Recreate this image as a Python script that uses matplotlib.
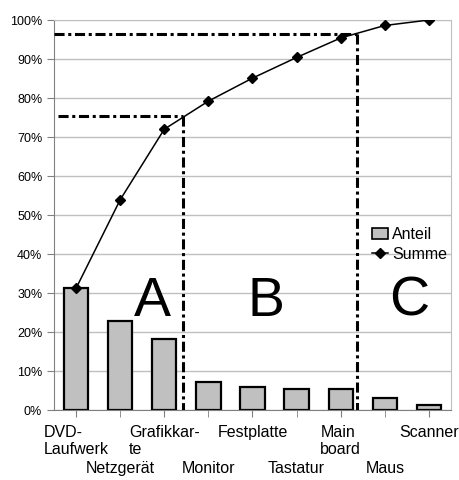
# ABC analysis: Pareto chart of component shares (Anteil) and running total (Summe)
import matplotlib
matplotlib.use("Agg")
import matplotlib.pyplot as plt
from matplotlib.patches import Patch
from matplotlib.lines import Line2D
import numpy as np

plt.rcParams['font.family'] = ['Liberation Sans', 'DejaVu Sans']

kategorien = ['DVD-\nLaufwerk', 'Netzgerät', 'Grafikkar-\nte', 'Monitor',
              'Festplatte', 'Tastatur', 'Main\nboard', 'Maus', 'Scanner']
anteil = [31.2, 22.7, 18.1, 7.2, 5.9, 5.3, 5.3, 3.0, 1.3]      # %
summe = [31.2, 53.9, 72.0, 79.2, 85.1, 90.4, 95.4, 98.6, 100.0]  # %

# boundaries of the A/B/C classes (x in bar units, y in %)
grenze_x = [2.43, 6.36]
grenze_y = [75.4, 96.4]
klassen = ['A', 'B', 'C']
klassen_x = [1.73, 4.3, 7.55]
klassen_y = 27.7

x = np.arange(len(kategorien))

fig = plt.figure(figsize=(4.6, 4.8), dpi=100)
ax = fig.add_axes([0.1174, 0.1458, 0.863, 0.8125])

ax.set_axisbelow(True)
ax.yaxis.grid(True, color='#c0c0c0', linewidth=1)

ax.bar(x, anteil, width=0.55, color='#c0c0c0', edgecolor='black', linewidth=1.6, zorder=2)
ax.plot(x, summe, color='black', linewidth=1.1, marker='D', markersize=5.5, zorder=4)

dd = (0, (3.3, 1.2, 1, 1.2))
ax.plot([-0.41, grenze_x[0]], [grenze_y[0]] * 2, color='black', lw=2.2, linestyle=dd, zorder=3)
ax.plot([grenze_x[0]] * 2, [grenze_y[0], 0], color='black', lw=2.2, linestyle=dd, zorder=3)
ax.plot([-0.5, grenze_x[1]], [grenze_y[1]] * 2, color='black', lw=2.2, linestyle=dd, zorder=3)
ax.plot([grenze_x[1]] * 2, [grenze_y[1], 0], color='black', lw=2.2, linestyle=dd, zorder=3)

for k, kx in zip(klassen, klassen_x):
    ax.text(kx, klassen_y, k, fontsize=40, ha='center', va='center', zorder=5)

ax.set_xlim(-0.5, len(kategorien) - 0.5)
ax.set_ylim(0, 100)
ax.set_yticks(np.arange(0, 101, 10))
ax.set_yticklabels([f'{v}%' for v in range(0, 101, 10)], fontsize=9)

# staggered category labels: even ones on the major ticks, odd ones lower on minor ticks
ax.set_xticks(x[::2])
ax.set_xticklabels(kategorien[::2], fontsize=11.5, multialignment='left', linespacing=1.15)
ax.set_xticks(x[1::2], minor=True)
ax.set_xticklabels(kategorien[1::2], minor=True, fontsize=11.5)
ax.tick_params(axis='both', which='both', length=5, color='#808080')
ax.tick_params(axis='x', which='major', pad=6)
ax.tick_params(axis='x', which='minor', pad=32)

for s in ['left', 'bottom']:
    ax.spines[s].set_color('#808080')
for s in ['top', 'right']:
    ax.spines[s].set_color('#c0c0c0')

handles = [Patch(facecolor='#c0c0c0', edgecolor='black', linewidth=1.2),
           Line2D([], [], color='black', marker='D', markersize=5.5, linewidth=1.1)]
ax.legend(handles, ['Anteil', 'Summe'], loc='upper left', bbox_to_anchor=(0.80, 0.469),
          frameon=False, fontsize=11.5, handlelength=1.0, handletextpad=0.3,
          borderpad=0, borderaxespad=0, labelspacing=0.3)

fig.savefig('out.png', dpi=100)
